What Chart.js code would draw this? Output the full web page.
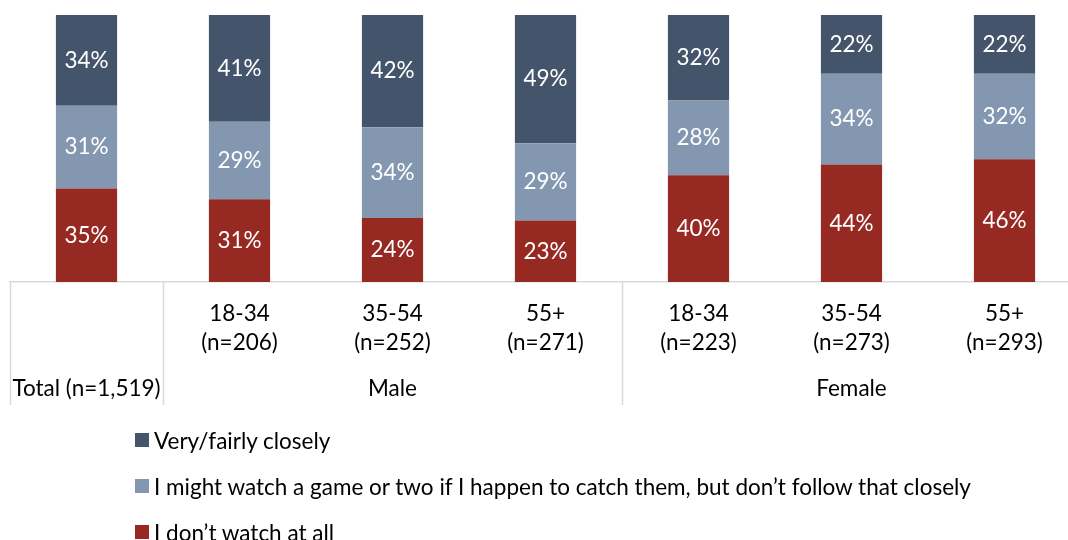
<!DOCTYPE html>
<html>
<head>
<meta charset="utf-8">
<script src="https://cdn.jsdelivr.net/npm/chart.js@4.4.1/dist/chart.umd.min.js"></script>
<style>
  html, body { margin: 0; padding: 0; background: #fff; }
  #wrap { position: relative; width: 1068px; height: 540px; overflow: hidden; }
  #viewChart { position: absolute; left: 0; top: 0; }
  #legend { position: absolute; left: 135px; top: 417px; font-family: Lato, sans-serif; font-size: 22.5px; color: #000; }
  #legend div { display: flex; align-items: center; height: 46px; }
  #legend span.box { display: inline-block; width: 14px; height: 14px; margin-right: 5px; }
</style>
</head>
<body>
<div id="wrap">
  <canvas id="viewChart" width="1082" height="540"></canvas>
  <div id="legend"></div>
</div>
<script>
// age bands per column, two lines each
const categories = [
    ['', ''],
    ['18-34', '(n=206)'],
    ['35-54', '(n=252)'],
    ['55+', '(n=271)'],
    ['18-34', '(n=223)'],
    ['35-54', '(n=273)'],
    ['55+', '(n=293)']
];

// group row under the age bands: [label, first column, last column]
const groups = [
    ['Total (n=1,519)', 0, 0],
    ['Male', 1, 3],
    ['Female', 4, 6]
];

const seriesNames = [
    'I don\u2019t watch at all',
    'I might watch a game or two if I happen to catch them, but don\u2019t follow that closely',
    'Very/fairly closely'
];
const seriesColors = ['#962922', '#8497b0', '#44546a'];

const dontWatch = [35, 31, 24, 23, 40, 44, 46];
const mightWatch = [31, 29, 34, 29, 28, 34, 32];
const closely = [34, 41, 42, 49, 32, 22, 22];

const FONT = 'Lato, sans-serif';
const SIZE = 22.5;

// white % labels centred in the visible part of each segment
const segmentLabels = {
    id: 'segmentLabels',
    afterDatasetsDraw(chart) {
        const ctx = chart.ctx;
        const area = chart.chartArea;
        ctx.save();
        ctx.fillStyle = '#ffffff';
        ctx.font = SIZE + 'px ' + FONT;
        ctx.textAlign = 'center';
        ctx.textBaseline = 'middle';
        chart.data.datasets.forEach((ds, i) => {
            chart.getDatasetMeta(i).data.forEach((bar, j) => {
                const top = Math.max(bar.y, area.top);
                const y = (top + bar.base) / 2;
                ctx.fillText(ds.data[j] + '%', bar.x, y);
            });
        });
        ctx.restore();
    }
};

// separators and group names below the axis
const groupAxis = {
    id: 'groupAxis',
    afterDraw(chart) {
        const ctx = chart.ctx;
        const x = chart.scales.x;
        const area = chart.chartArea;
        const half = (x.getPixelForValue(1) - x.getPixelForValue(0)) / 2;
        ctx.save();
        ctx.strokeStyle = '#d9d9d9';
        ctx.lineWidth = 1.5;
        ctx.fillStyle = '#000';
        ctx.font = SIZE + 'px ' + FONT;
        ctx.textAlign = 'center';
        ctx.textBaseline = 'middle';
        groups.forEach(g => {
            const left = x.getPixelForValue(g[1]) - half;
            ctx.beginPath();
            ctx.moveTo(Math.round(left) + 0.5, area.bottom);
            ctx.lineTo(Math.round(left) + 0.5, area.bottom + 123);
            ctx.stroke();
            const mid = (x.getPixelForValue(g[1]) + x.getPixelForValue(g[2])) / 2;
            ctx.fillText(g[0], mid, area.bottom + 107);
        });
        ctx.restore();
    }
};

const datasets = [dontWatch, mightWatch, closely].map((values, i) => ({
    label: seriesNames[i],
    data: values,
    backgroundColor: seriesColors[i],
    borderWidth: 0,
    categoryPercentage: 0.8,
    barPercentage: 0.5
}));

new Chart(document.getElementById('viewChart'), {
    type: 'bar',
    data: { labels: categories, datasets: datasets },
    options: {
        responsive: false,
        animation: false,
        layout: { padding: { left: 10, top: 15, right: 1, bottom: 135 } },
        plugins: {
            legend: { display: false },
            tooltip: { enabled: false }
        },
        scales: {
            x: {
                stacked: true,
                grid: { display: false, drawTicks: false },
                border: { display: true, color: '#d9d9d9', width: 1.5 },
                ticks: {
                    color: '#000',
                    padding: 17,
                    font: { family: FONT, size: SIZE, lineHeight: 1.29 },
                    maxRotation: 0,
                    autoSkip: false
                },
                afterFit(scale) { scale.height = 123; }
            },
            y: {
                stacked: true,
                display: false,
                min: 0,
                max: 100
            }
        }
    },
    plugins: [segmentLabels, groupAxis]
});

// legend, top item is the top of the stack
const legend = document.getElementById('legend');
for (let i = seriesNames.length - 1; i >= 0; i--) {
    const row = document.createElement('div');
    const box = document.createElement('span');
    box.className = 'box';
    box.style.background = seriesColors[i];
    row.appendChild(box);
    row.appendChild(document.createTextNode(seriesNames[i]));
    legend.appendChild(row);
}
</script>
</body>
</html>
